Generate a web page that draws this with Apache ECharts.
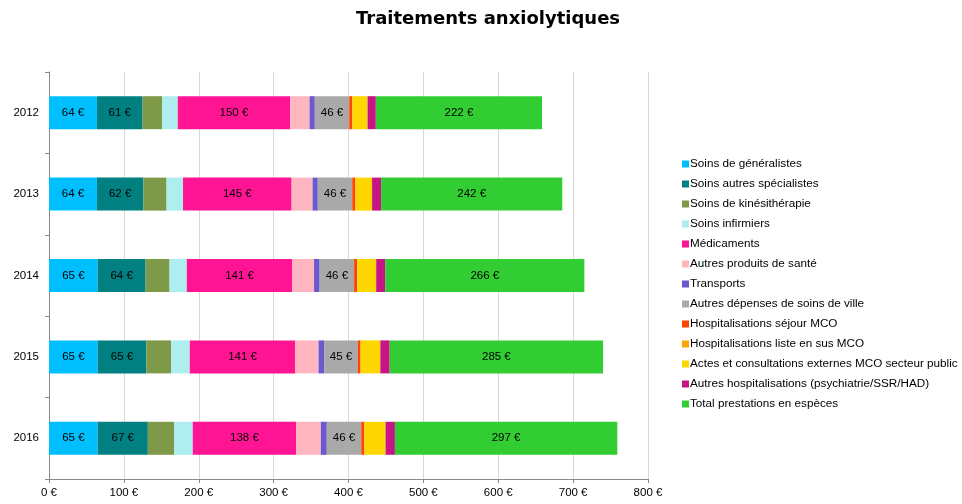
<!DOCTYPE html>
<html>
<head>
<meta charset="utf-8">
<script src="https://cdn.jsdelivr.net/npm/echarts@6/dist/echarts.min.js"></script>
<style>
html,body{margin:0;padding:0;background:#fff;}
#chart{width:962px;height:504px;}
</style>
</head>
<body>
<div id="chart"></div>
<script>
const years = ['2012', '2013', '2014', '2015', '2016'];
const xTicks = [0, 100, 200, 300, 400, 500, 600, 700, 800];

const generalistes = [64, 64, 65, 65, 65];
const specialistes = [61, 62, 64, 65, 67];
const kinesitherapie = [26, 31, 32, 33, 35];
const infirmiers = [21, 22, 23, 25, 25];
const medicaments = [150, 145, 141, 141, 138];
const autresProduits = [26, 28, 29, 31, 33];
const transports = [7, 7, 7.5, 7.5, 8];
const autresDepenses = [46, 46, 46, 45, 46];
const hospSejour = [4, 4, 4, 3.5, 4];
const hospListe = [0.5, 0.5, 0.5, 0.5, 0.5];
const actesExternes = [20, 22, 25, 26, 28];
const autresHosp = [11, 12, 12, 12.5, 12.5];
const prestationsEspeces = [222, 242, 266, 285, 297];

const seriesDefs = [
  ['Soins de généralistes', generalistes, '#00BFFF', true],
  ['Soins autres spécialistes', specialistes, '#008080', true],
  ['Soins de kinésithérapie', kinesitherapie, '#7E9A48', false],
  ['Soins infirmiers', infirmiers, '#AFEEEE', false],
  ['Médicaments', medicaments, '#FF1493', true],
  ['Autres produits de santé', autresProduits, '#FFB6C1', false],
  ['Transports', transports, '#6A5ACD', false],
  ['Autres dépenses de soins de ville', autresDepenses, '#A9A9A9', true],
  ['Hospitalisations séjour MCO', hospSejour, '#FF4500', false],
  ['Hospitalisations liste en sus MCO', hospListe, '#FFA500', false],
  ['Actes et consultations externes MCO secteur public', actesExternes, '#FFD700', false],
  ['Autres hospitalisations (psychiatrie/SSR/HAD)', autresHosp, '#C71585', false],
  ['Total prestations en espèces', prestationsEspeces, '#32CD32', true]
];

const font = 'Liberation Sans, Arial, sans-serif';

const chart = echarts.init(document.getElementById('chart'), null, {renderer: 'canvas'});
chart.setOption({
  animation: false,
  title: {
    text: 'Traitements anxiolytiques',
    left: 351,
    top: 5,
    textStyle: {fontFamily: 'DejaVu Sans', fontWeight: 'bold', fontSize: 18, color: '#000'}
  },
  legend: {
    orient: 'vertical',
    left: 682,
    top: 157,
    padding: 0,
    itemWidth: 7,
    itemHeight: 7,
    itemGap: 6,
    icon: 'rect',
    textStyle: {fontFamily: font, fontSize: 11.7, color: '#000', lineHeight: 14, padding: [0, 0, 0, -4]},
    data: seriesDefs.map(d => d[0])
  },
  grid: {left: 49, right: 314, top: 72, bottom: 25, containLabel: false},
  xAxis: {
    type: 'value',
    min: xTicks[0],
    max: xTicks[xTicks.length - 1],
    interval: 100,
    axisLine: {show: true, lineStyle: {color: '#888'}},
    axisTick: {show: true, length: 4, lineStyle: {color: '#888'}},
    splitLine: {show: true, lineStyle: {color: '#D9D9D9'}},
    axisLabel: {fontFamily: font, fontSize: 11.5, color: '#000', formatter: v => v + ' €', margin: 8}
  },
  yAxis: {
    type: 'category',
    data: years,
    inverse: true,
    axisLine: {show: true, lineStyle: {color: '#888'}},
    axisTick: {show: true, length: 4, lineStyle: {color: '#888'}},
    axisLabel: {fontFamily: font, fontSize: 11.5, color: '#000', margin: 10}
  },
  series: seriesDefs.map(d => ({
    name: d[0],
    type: 'bar',
    stack: 'total',
    barWidth: 33,
    data: d[1],
    itemStyle: {color: d[2]},
    label: {
      show: d[3],
      position: 'inside',
      color: '#000',
      fontFamily: font,
      fontSize: 11.5,
      formatter: p => Math.round(p.value) + ' €'
    }
  }))
});
</script>
</body>
</html>
